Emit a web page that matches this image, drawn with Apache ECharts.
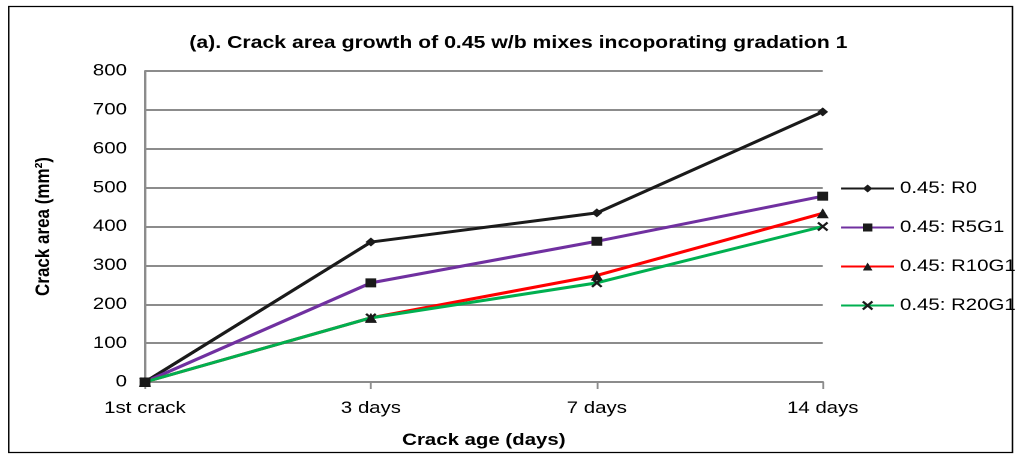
<!DOCTYPE html>
<html>
<head>
<meta charset="utf-8">
<script src="https://cdn.jsdelivr.net/npm/echarts@6/dist/echarts.min.js"></script>
<style>
  html, body { margin: 0; padding: 0; background: #fff; overflow: hidden; }
  #wrap { width: 1019px; height: 455px; overflow: hidden; }
  /* the chart is drawn on a narrower canvas and widened, giving the wide lettering */
  #chart { width: 849.17px; height: 455px; transform: scaleX(1.2); transform-origin: 0 0; }
</style>
</head>
<body>
<div id="wrap"><div id="chart"></div></div>
<script>
// Crack ages (x categories)
const ages = ['1st crack', '3 days', '7 days', '14 days'];

// Crack area (mm²) per mix
const r0 = [0, 360, 435, 695];
const r5g1 = [0, 255, 362, 478];
const r10g1 = [0, 165, 274, 434];
const r20g1 = [0, 165, 255, 400];

const seriesNames = ['0.45: R0', '0.45: R5G1', '0.45: R10G1', '0.45: R20G1'];

const FONT = 'Liberation Sans, Arial, sans-serif';
const crossPath = 'path://M0,0 L10,10 M10,0 L0,10';

function line(name, data, color, symbol, size, extra) {
  return Object.assign({
    name: name,
    type: 'line',
    data: data,
    symbol: symbol,
    symbolSize: size,
    showAllSymbol: true,
    lineStyle: { color: color, width: 3 },
    itemStyle: { color: '#1a1a1a' },
    emphasis: { disabled: true },
    animation: false,
    z: 3
  }, extra || {});
}

const chart = echarts.init(document.getElementById('chart'), null, { devicePixelRatio: 2 });
chart.setOption({
  backgroundColor: '#fff',
  title: {
    text: '(a). Crack area growth of 0.45 w/b mixes incoporating gradation 1',
    left: 427, top: 29, textAlign: 'center',
    textStyle: { fontFamily: FONT, fontSize: 17.7, fontWeight: 'bold', color: '#000' }
  },
  graphic: [{
    type: 'rect',
    shape: { x: 7.2, y: 6.5, width: 836.5, height: 446 },
    style: { fill: 'none', stroke: '#000', lineWidth: 1.3 },
    silent: true
  }],
  legend: {
    orient: 'vertical',
    left: 695, top: 175,
    itemWidth: 44, itemHeight: 10,
    itemGap: 22,
    textStyle: { fontFamily: FONT, fontSize: 17, color: '#000' },
    data: seriesNames
  },
  grid: { left: 120.8, right: 163.4, top: 71, bottom: 73, containLabel: false },
  xAxis: {
    type: 'category',
    data: ages,
    boundaryGap: false,
    name: 'Crack age (days)',
    nameLocation: 'middle',
    nameGap: 50,
    nameTextStyle: { fontFamily: FONT, fontSize: 17, fontWeight: 'bold', color: '#000' },
    axisLine: { lineStyle: { color: '#8c8c8c', width: 2 } },
    axisTick: { show: true, alignWithLabel: true, length: 7, lineStyle: { color: '#8c8c8c', width: 1.5 } },
    axisLabel: { fontFamily: FONT, fontSize: 17, color: '#000', margin: 18 },
    splitLine: { show: false }
  },
  yAxis: {
    type: 'value',
    min: 0, max: 800, interval: 100,
    name: 'Crack area (mm²)',
    nameLocation: 'middle',
    nameGap: 76,
    nameRotate: 90,
    nameTextStyle: { fontFamily: FONT, fontSize: 17, fontWeight: 'bold', color: '#000' },
    axisLine: { show: true, lineStyle: { color: '#8c8c8c', width: 2 } },
    axisTick: { show: false },
    axisLabel: { fontFamily: FONT, fontSize: 17, color: '#000', margin: 15 },
    splitLine: { lineStyle: { color: '#8c8c8c', width: 2 } }
  },
  series: [
    line(seriesNames[0], r0, '#1a1a1a', 'diamond', 9),
    line(seriesNames[1], r5g1, '#7030a0', 'rect', 9),
    line(seriesNames[2], r10g1, '#ff0000', 'triangle', 10),
    line(seriesNames[3], r20g1, '#00b050', crossPath, 8, {
      itemStyle: { color: '#1a1a1a', borderColor: '#1a1a1a', borderWidth: 2 }
    })
  ]
});
</script>
</body>
</html>
